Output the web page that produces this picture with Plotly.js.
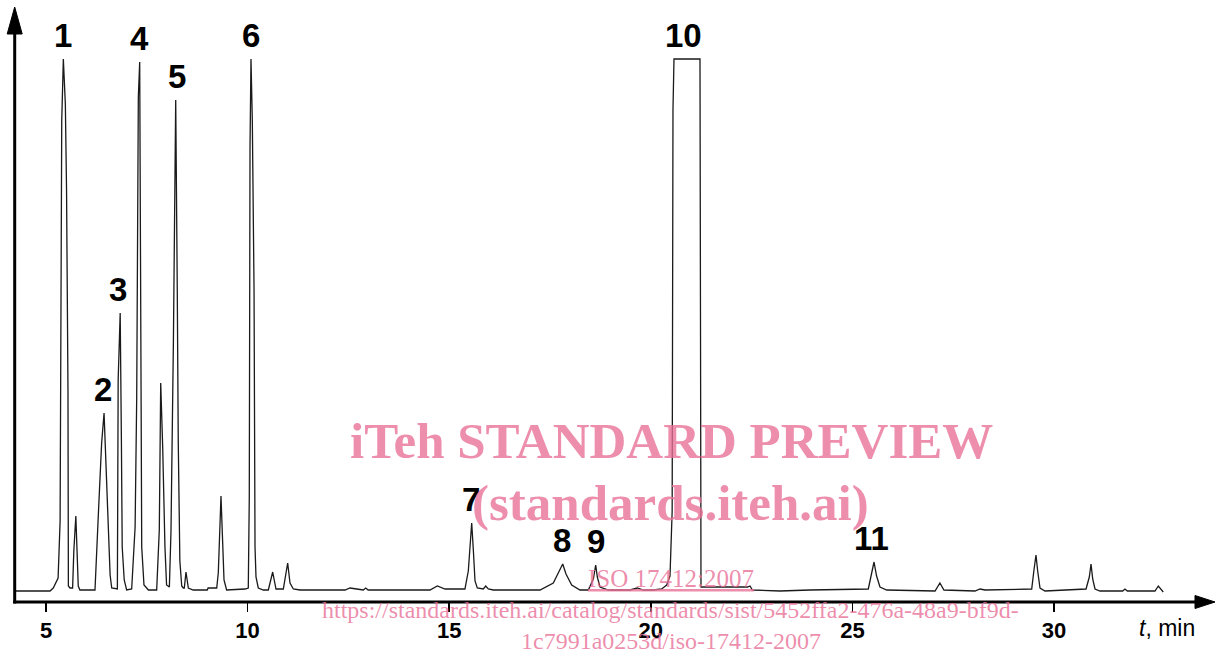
<!DOCTYPE html>
<html>
<head>
<meta charset="utf-8">
<script src="https://cdn.plot.ly/plotly-3.0.1.min.js"></script>
<style>html,body{margin:0;padding:0;background:#fff}#chart{width:1215px;height:655px}</style>
</head>
<body>
<div id="chart"></div>
<script>
// Retention time (min) and detector signal (arbitrary units, baseline = 0)
const timeMin = [
  4.22, 5.10, 5.18, 5.30, 5.35, 5.39, 5.43, 5.48, 5.51, 5.545, 5.555, 5.595,
  5.66, 5.69, 5.74, 5.77, 5.80, 5.84,
  6.215, 6.30, 6.38, 6.44, 6.52, 6.59, 6.63,
  6.77, 6.79, 6.84, 6.87, 6.89, 6.94, 7.00,
  7.125, 7.21, 7.25, 7.29, 7.324, 7.34, 7.36, 7.374, 7.43, 7.54,
  7.745, 7.81, 7.845, 7.894, 7.95, 7.99, 8.06,
  8.10, 8.16, 8.217, 8.256, 8.28, 8.32, 8.366, 8.405,
  8.43, 8.472, 8.53, 8.65,
  9.00, 9.02, 9.234, 9.273, 9.315, 9.34, 9.373, 9.415, 9.48,
  9.935, 10.017, 10.042, 10.06, 10.084, 10.117, 10.16, 10.184, 10.208, 10.265, 10.39,
  10.514, 10.622, 10.704, 10.886, 10.994, 11.052, 11.134, 11.30,
  12.416, 12.54, 12.706, 12.87, 12.93, 12.99,
  14.524, 14.705, 14.896, 15.39,
  15.474, 15.533, 15.558, 15.60, 15.64, 15.697, 15.846, 15.905, 15.97, 16.094,
  17.252, 17.582, 17.748, 17.815, 17.897, 18.038, 18.244,
  18.45, 18.575, 18.633, 18.674, 18.74, 18.946,
  19.484, 19.665, 19.814, 20.062,
  20.27, 20.394, 20.476, 20.53, 20.55, 20.575, 21.22, 21.245, 21.59,
  22.40, 22.46, 22.52, 23.20, 23.95,
  25.394, 25.478, 25.536, 25.60, 25.684, 25.85,
  27.05, 27.17, 27.27, 28.04, 28.165, 28.29,
  29.447, 29.50, 29.553, 29.595, 29.653, 29.777,
  30.794, 30.876, 30.918, 30.96, 31.017, 31.14,
  31.703, 31.76, 31.82, 32.505, 32.587, 32.71
];
const signal = [
  0, 0, 3, 13, 70, 470, 532, 487, 400, 200, 5, 3,
  3, 40, 75, 40, 5, 1,
  1, 78, 148, 178, 101, 16, 3,
  2, 211, 278, 150, 44, 11, 1,
  2, 64, 194, 494, 529, 401, 224, 44, 6, 1,
  1, 61, 208, 144, 44, 6, 4,
  60, 250, 491, 300, 150, 30, 5, 3,
  3, 19, 3, 1,
  1, 3, 3, 18, 61, 95, 58, 11, 1,
  2, 3, 94, 444, 532, 470, 300, 44, 14, 3, 1,
  1, 19, 2, 2, 28, 8, 2, 1,
  1, 3, 2, 1, 3, 1,
  1, 5, 2, 2,
  20, 55, 68, 40, 10, 3, 2, 5, 2, 1,
  1, 8, 22, 27, 17, 6, 1,
  1, 12, 26, 14, 4, 1,
  1, 3, 1, 1,
  2, 6, 15, 80, 481, 532, 532, 4, 4,
  4, 5, 1, 0, 1,
  2, 18, 29, 15, 4, 1,
  0, 8, 1, 0, 2, 1,
  2, 20, 36, 20, 3, 0,
  2, 14, 27, 12, 2, 0,
  0, 2, 0, 0, 5, -1
];

// Peak numbers and where they sit
const peakLabels = ["1", "2", "3", "4", "5", "6", "7", "8", "9", "10", "11"];
const peakLabelTime = [5.42, 6.41, 6.79, 7.31, 8.25, 10.08, 15.54, 17.80, 18.64, 20.80, 25.48];
const peakTopSignal = [532, 178, 278, 529, 491, 532, 68, 27, 26, 532, 29];

// Axis ticks
const tickValues = [5, 10, 15, 20, 25, 30];
const tickLabels = ["5", "10", "15", "20", "25", "30"];
const axisTitle = "<i>t</i>, min";

// Watermark texts
const watermark = [
  "<b>iTeh STANDARD PREVIEW</b>",
  "<b>(standards.iteh.ai)</b>",
  "<u>ISO 17412:2007</u>",
  "https://standards.iteh.ai/catalog/standards/sist/5452ffa2-476a-48a9-bf9d-",
  "1c7991a0253d/iso-17412-2007"
];

// ---- layout geometry ----
const W = 1215, H = 655;
const xMin = 3.8591, xMax = 33.993;        // full figure width in minutes
const yMin = -64, yMax = 591;              // full figure height in signal units
const pxX = (xMax - xMin) / W;             // minutes per pixel
const pxY = (yMax - yMin) / H;             // signal units per pixel
const axisY = -11;                          // x-axis line level
const axisX = 4.2237;                       // y-axis line position

const shapes = [
  {type: "line", xref: "x", yref: "y", x0: axisX - 1.5 * pxX, x1: xMax - 20 * pxX, y0: axisY, y1: axisY,
   line: {color: "#000", width: 3}},
  {type: "path", xref: "x", yref: "y",
   path: `M ${xMax - 20 * pxX},${axisY + 6.5 * pxY} L ${xMax},${axisY} L ${xMax - 20 * pxX},${axisY - 6.5 * pxY} Z`,
   fillcolor: "#000", line: {color: "#000", width: 1}},
  {type: "line", xref: "x", yref: "y", x0: axisX, x1: axisX, y0: axisY - 1.5 * pxY, y1: yMax - 34 * pxY,
   line: {color: "#000", width: 3}},
  {type: "path", xref: "x", yref: "y",
   path: `M ${axisX - 7.5 * pxX},${yMax - 34 * pxY} L ${axisX},${yMax - 7 * pxY} L ${axisX + 7.5 * pxX},${yMax - 34 * pxY} Z`,
   fillcolor: "#000", line: {color: "#000", width: 1}}
];

const annotations = peakLabels.map((t, i) => ({
  x: peakLabelTime[i], y: peakTopSignal[i], xref: "x", yref: "y",
  text: "<b>" + t + "</b>", showarrow: false, xanchor: "center", yanchor: "middle", yshift: 24,
  font: {family: "Liberation Sans, Arial, sans-serif", size: 33, color: "#000"}
}));

annotations.push({
  x: 1167 / W, y: 1 - 628 / H, xref: "paper", yref: "paper", text: axisTitle, showarrow: false,
  xanchor: "center", yanchor: "middle",
  font: {family: "Liberation Sans, Arial, sans-serif", size: 23, color: "#000"}
});

const wmPos = [[672, 441, 51], [670, 503, 51], [671, 578, 25], [670, 610, 24], [671, 641, 24]];
watermark.forEach((t, i) => {
  annotations.push({
    x: wmPos[i][0] / W, y: 1 - wmPos[i][1] / H, xref: "paper", yref: "paper", text: t, showarrow: false,
    xanchor: "center", yanchor: "middle",
    font: {family: "Liberation Serif, Times New Roman, serif", size: wmPos[i][2], color: "rgba(232,110,150,0.78)"}
  });
});

const trace = {
  x: timeMin, y: signal, type: "scatter", mode: "lines",
  line: {color: "#1a1a1a", width: 1.3}, hoverinfo: "skip"
};

const layout = {
  width: W, height: H,
  margin: {l: 0, r: 0, t: 0, b: 0, pad: 0},
  paper_bgcolor: "#fff", plot_bgcolor: "#fff",
  showlegend: false,
  xaxis: {
    range: [xMin, xMax], anchor: "free", position: (H - 602) / H,
    showgrid: false, zeroline: false, showline: false,
    tickmode: "array", tickvals: tickValues, ticktext: tickLabels,
    ticks: "outside", ticklen: 9, tickwidth: 1.5, tickcolor: "#000",
    tickfont: {family: "Liberation Sans, Arial, sans-serif", size: 22, color: "#000", weight: "bold"},
    fixedrange: true
  },
  yaxis: {range: [yMin, yMax], visible: false, fixedrange: true},
  shapes: shapes,
  annotations: annotations
};

Plotly.newPlot("chart", [trace], layout, {staticPlot: true, displayModeBar: false});
</script>
</body>
</html>
